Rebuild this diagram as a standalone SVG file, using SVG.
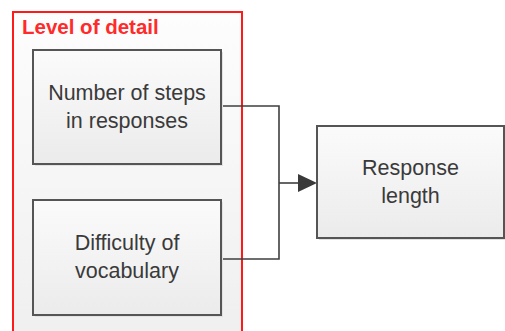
<svg xmlns="http://www.w3.org/2000/svg" width="505" height="331" viewBox="0 0 505 331">
<defs>
<linearGradient id="gbg" x1="0" y1="0" x2="0" y2="1">
<stop offset="0" stop-color="#fdfdfd"/>
<stop offset="1" stop-color="#efefef"/>
</linearGradient>
<linearGradient id="gnode" x1="0" y1="0" x2="0" y2="1">
<stop offset="0" stop-color="#fbfbfb"/>
<stop offset="1" stop-color="#ebebeb"/>
</linearGradient>
</defs>
<style>
.node rect.box{fill:url(#gnode);stroke:#555;stroke-width:2}
.node rect.sh{fill:#e2e2e2}
.lbl{font-family:"Liberation Sans",Arial,sans-serif;font-size:21.5px;fill:#3a3a3a;text-anchor:middle}
.conn{fill:none;stroke:#3f3f3f;stroke-width:1.6}
</style>
<rect width="505" height="331" fill="#ffffff"/>
<g id="group-level-of-detail">
<rect x="13" y="12" width="229" height="330" fill="url(#gbg)" stroke="#ff1a1a" stroke-width="2"/>
<text x="22" y="34" font-family="'Liberation Sans',Arial,sans-serif" font-size="20.5" font-weight="bold" fill="#ff2a2a">Level of detail</text>
</g>
<g id="connectors">
<path class="conn" d="M221,106 H279 V259 H221"/>
<path class="conn" d="M279,183 H298"/>
<path d="M298,174 L317,183 L298,192 Z" fill="#3a3a3a"/>
</g>
<g id="node-steps" class="node">
<rect class="sh" x="35" y="52" width="188" height="114"/>
<rect class="box" x="33" y="50" width="188" height="114"/>
<text class="lbl" x="127" y="100">Number of steps</text>
<text class="lbl" x="127" y="128">in responses</text>
</g>
<g id="node-vocab" class="node">
<rect class="sh" x="35" y="202" width="188" height="115"/>
<rect class="box" x="33" y="200" width="188" height="115"/>
<text class="lbl" x="127" y="250">Difficulty of</text>
<text class="lbl" x="127" y="278">vocabulary</text>
</g>
<g id="node-response" class="node">
<rect class="sh" x="319" y="128" width="187" height="112"/>
<rect class="box" x="317" y="126" width="187" height="112"/>
<text class="lbl" x="410.5" y="175">Response</text>
<text class="lbl" x="410.5" y="203">length</text>
</g>
</svg>
